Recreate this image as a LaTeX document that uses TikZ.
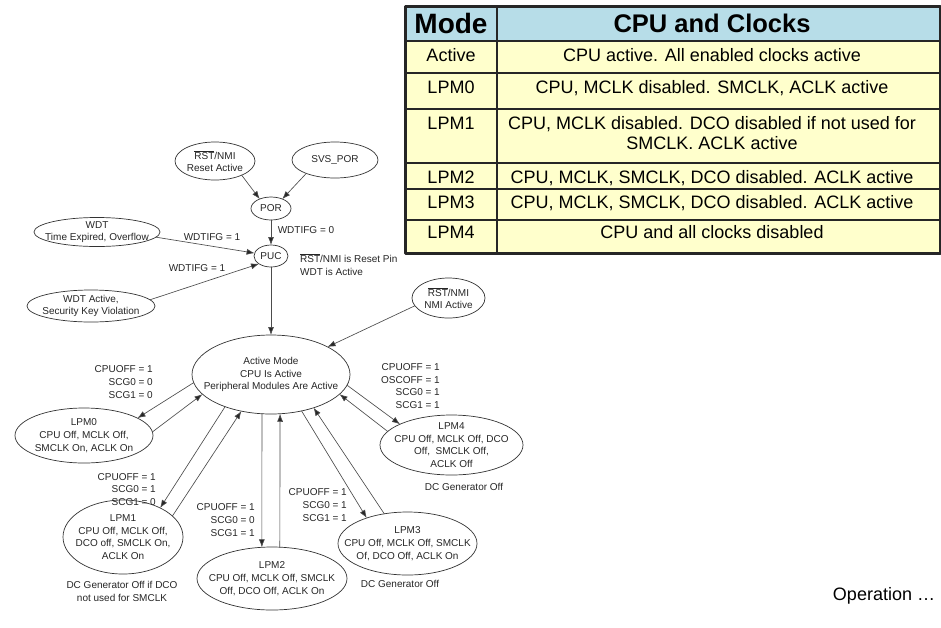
\documentclass[tikz,border=0pt]{standalone}
\usepackage{fontspec}
\setmainfont{Liberation Sans}
\usetikzlibrary{shapes.geometric,arrows.meta}
\definecolor{headblue}{RGB}{183,221,232}
\definecolor{rowyellow}{RGB}{255,255,204}
\newcommand{\rstbar}{$\overline{\mbox{RST}}$}
\tikzset{
	state/.style={draw=black!80,ellipse,line width=0.7pt,inner sep=0pt,outer sep=0pt},
	statetxt/.style={align=center,inner sep=0pt,text=black!85},
	cond/.style={align=right,anchor=east,inner sep=0pt,text=black!85},
	flow/.style={->,draw=black!70,line width=0.65pt},
	tabtxt/.style={font=\fontsize{18}{19.5}\selectfont,anchor=north,align=center,inner sep=0pt},
}
\begin{document}
\begin{tikzpicture}[x=1pt,y=-1pt,font=\fontsize{10}{12.7}\selectfont,line join=round,line cap=round,>={Latex[length=8pt,width=6pt,fill=black!85]}]
	\useasboundingbox[fill=white] (0,0) rectangle (941,627);
	% states
	\node[state,minimum width=80pt,minimum height=38pt,label={[statetxt]center:\rstbar/NMI\\Reset Active}] (rst) at (215,161) {};
	\node[state,minimum width=86pt,minimum height=36pt,label={[statetxt]center:SVS\_POR}] (svs) at (335,160) {};
	\node[state,minimum width=40pt,minimum height=23pt,label={[statetxt]center:POR}] (por) at (271,208.5) {};
	\node[state,minimum width=34pt,minimum height=22pt,label={[statetxt]center:PUC}] (puc) at (271,256) {};
	\node[state,minimum width=126pt,minimum height=29pt,label={[statetxt]center:WDT\\Time Expired, Overflow}] (wdt) at (97,232) {};
	\node[state,minimum width=128pt,minimum height=32pt,label={[statetxt]center:WDT Active,\\Security Key Violation}] (key) at (91,306) {};
	\node[state,minimum width=73pt,minimum height=40pt,label={[statetxt]center:\rstbar/NMI\\NMI Active}] (nmi) at (448.5,298) {};
	\node[state,minimum width=158pt,minimum height=79pt,label={[statetxt]center:Active Mode\\CPU Is Active\\Peripheral Modules Are Active}] (act) at (271,374.5) {};
	\node[state,minimum width=138pt,minimum height=55pt,label={[statetxt]center:LPM0\\CPU Off, MCLK Off,\\SMCLK On, ACLK On}] (lpm0) at (84,435.5) {};
	\node[state,minimum width=120pt,minimum height=74pt,label={[statetxt]center:LPM1\\CPU Off, MCLK Off,\\DCO off, SMCLK On,\\ACLK On}] (lpm1) at (123,537) {};
	\node[state,minimum width=150pt,minimum height=63pt,label={[statetxt]center:LPM2\\CPU Off, MCLK Off, SMCLK\\Off, DCO Off, ACLK On}] (lpm2) at (272,578.5) {};
	\node[state,minimum width=139pt,minimum height=63pt,label={[statetxt]center:LPM3\\CPU Off, MCLK Off, SMCLK\\Of, DCO Off, ACLK On}] (lpm3) at (407.5,543.5) {};
	\node[state,minimum width=143pt,minimum height=60pt,label={[statetxt]center:LPM4\\CPU Off, MCLK Off, DCO\\Off,\ \ SMCLK Off,\\ACLK Off}] (lpm4) at (451.5,445) {};

	% transitions
	\draw[flow] (rst.332) -- (por.140);
	\draw[flow] (svs.205) -- (por.40);
	\draw[flow] (por.south) -- (puc.north);
	\draw[flow] (wdt.355) -- (puc.170);
	\draw[flow] (key.6) -- (puc.213);
	\draw[flow] (puc.south) -- (act.north);
	\draw[flow] (nmi.193) -- (act.26);
	\draw[flow] (act.186) -- (lpm0.18);
	\draw[flow] (lpm0.3) -- (act.196);
	\draw[flow] (act.215) -- (lpm1.38);
	\draw[flow] (lpm1.23) -- (act.231);
	\draw[flow] (act.257) -- (lpm2.108);
	\draw[flow] (lpm2.76) -- (act.283);
	\draw[flow] (act.310) -- (lpm3.148);
	\draw[flow] (lpm3.128) -- (act.322);
	\draw[flow] (act.352) -- (lpm4.158);
	\draw[flow] (lpm4.168) -- (act.344);

	% conditions
	\node[statetxt] (wdtifga) at (212,237) {WDTIFG = 1};
	\node[statetxt] (wdtifgb) at (197,268) {WDTIFG = 1};
	\node[statetxt] (wdtifgc) at (306,230) {WDTIFG = 0};
	\node[statetxt,align=left,anchor=west] (pin) at (300,264.5) {\rstbar/NMI is Reset Pin\\WDT is Active};
	\node[cond] (c0) at (153,382) {CPUOFF = 1\\SCG0 = 0\\SCG1 = 0};
	\node[cond] (c1) at (156,489.5) {CPUOFF = 1\\SCG0 = 1\\SCG1 = 0};
	\node[cond] (c2) at (255,520) {CPUOFF = 1\\SCG0 = 0\\SCG1 = 1};
	\node[cond] (c3) at (347,505) {CPUOFF = 1\\SCG0 = 1\\SCG1 = 1};
	\node[cond] (c4) at (440,386) {CPUOFF = 1\\OSCOFF = 1\\SCG0 = 1\\SCG1 = 1};
	\node[statetxt] (dc1) at (122,591.5) {DC Generator Off if DCO\\not used for SMCLK};
	\node[statetxt] (dc3) at (400,584) {DC Generator Off};
	\node[statetxt] (dc4) at (464,487) {DC Generator Off};

	% mode table
	\fill[headblue] (405,6) rectangle (940,41);
	\fill[rowyellow] (405,41) rectangle (940,253);
	\foreach \y in {41,73,109,163,189,220}
		\draw[line width=2pt,black!85] (405,\y) -- (940,\y);
	\draw[line width=2pt,black!85] (497,6) -- (497,253);
	\draw[line width=3pt,black!85] (405,6) rectangle (940,253);
	\node[font=\fontsize{28}{30}\selectfont\bfseries] (mhead) at (451,23) {Mode};
	\node[font=\fontsize{25.5}{28}\selectfont\bfseries] (chead) at (712,23) {CPU and Clocks};
	\foreach \y/\m/\c in {48.5/Active/{CPU active. All enabled clocks active},
		80.5/LPM0/{CPU, MCLK disabled. SMCLK, ACLK active},
		116.5/LPM1/{CPU, MCLK disabled. DCO disabled if not used for\\SMCLK. ACLK active},
		170.5/LPM2/{CPU, MCLK, SMCLK, DCO disabled. ACLK active},
		195.5/LPM3/{CPU, MCLK, SMCLK, DCO disabled. ACLK active},
		225.5/LPM4/{CPU and all clocks disabled}}
	{
		\node[tabtxt] (m\m) at (451,\y) {\m};
		\node[tabtxt] (c\m) at (712,\y) {\c};
	}
	\node[font=\fontsize{18}{20}\selectfont] (op) at (884,596) {Operation \dots};
\end{tikzpicture}
\end{document}
